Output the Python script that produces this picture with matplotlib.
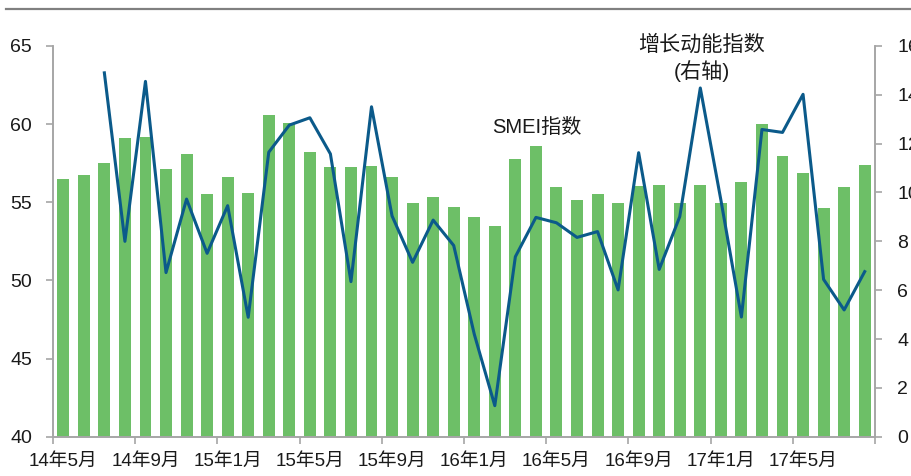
"""SMEI指数与增长动能指数 → out.png"""

import matplotlib
import matplotlib.pyplot as plt
from matplotlib.lines import Line2D

matplotlib.use("Agg")

plt.rcParams["font.family"] = ["Liberation Sans", "Noto Sans CJK SC", "DejaVu Sans"]
plt.rcParams["axes.unicode_minus"] = False

# ── 数据 ──────────────────────────────────────────
MONTHS = [f"{y}年{m}月" for y, m in
          [(14, m) for m in range(5, 13)] + [(15, m) for m in range(1, 13)]
          + [(16, m) for m in range(1, 13)] + [(17, m) for m in range(1, 9)]]

SMEI = [56.5, 56.75, 57.5, 59.1, 59.2, 57.1, 58.1, 55.5, 56.6, 55.6,
        60.6, 60.05, 58.2, 57.25, 57.25, 57.35, 56.6, 54.98, 55.35, 54.7,
        54.05, 53.5, 57.8, 58.6, 56.0, 55.15, 55.5, 54.95, 56.05, 56.1,
        54.98, 56.1, 54.98, 56.3, 59.98, 57.98, 56.9, 54.65, 56.0, 57.38]

GROWTH = [None, None, 14.9, 8.0, 14.55, 6.72, 9.73, 7.51, 9.46, 4.89,
          11.65, 12.76, 13.06, 11.58, 6.35, 13.51, 9.04, 7.14, 8.87, 7.83,
          4.2, 1.27, 7.37, 8.98, 8.76, 8.16, 8.4, 6.01, 11.63, 6.85,
          9.01, 14.28, 9.7, 4.9, 12.58, 12.46, 14.02, 6.44, 5.19, 6.76]

BAR_COLOR = "#6dbf67"
LINE_COLOR = "#0b5a8a"
AXIS_COLOR = "#a6a6a6"
TEXT_COLOR = "#1a1a1a"


def main() -> None:
    fig = plt.figure(figsize=(9.12, 4.76), dpi=100)
    ax = fig.add_axes([0.0581, 0.0826, 0.9013, 0.8208])
    ax2 = ax.twinx()

    x = list(range(len(MONTHS)))
    ax.bar(x, SMEI, width=0.58, color=BAR_COLOR, zorder=2)
    gx = [i for i, v in zip(x, GROWTH) if v is not None]
    gy = [v for v in GROWTH if v is not None]
    ax2.plot(gx, gy, color=LINE_COLOR, linewidth=2.2, zorder=3)

    ax.set_xlim(-0.5, len(MONTHS) - 0.5)
    ax.set_ylim(40, 65)
    ax.set_yticks(range(40, 66, 5))
    ax2.set_ylim(0, 16)
    ax2.set_yticks(range(0, 17, 2))

    ax.set_xticks(x[::4])
    ax.set_xticklabels(MONTHS[::4], fontsize=13.5)
    ax.set_xticks([i - 0.5 for i in range(0, len(MONTHS) + 1, 4)], minor=True)
    ax.tick_params(axis="x", which="major", length=0, pad=12, labelcolor=TEXT_COLOR)
    ax.tick_params(axis="x", which="minor", length=5, color=AXIS_COLOR, width=1.2)
    ax.tick_params(axis="y", length=5, color=AXIS_COLOR, width=1.2, pad=10,
                   labelsize=14, labelcolor=TEXT_COLOR)
    ax2.tick_params(axis="y", length=5, color=AXIS_COLOR, width=1.2, pad=11,
                    labelsize=14, labelcolor=TEXT_COLOR)

    for a in (ax, ax2):
        a.spines["top"].set_visible(False)
        for s in ("left", "right", "bottom"):
            a.spines[s].set_color(AXIS_COLOR)
            a.spines[s].set_linewidth(1.2)
    ax.set_zorder(1)
    ax2.set_zorder(2)
    ax.patch.set_visible(False)

    fig.text(537 / 912, 1 - 127 / 476, "SMEI指数", fontsize=14.5,
             ha="center", va="center", color=TEXT_COLOR)
    fig.text(702 / 912, 1 - 45 / 476, "增长动能指数", fontsize=15.2,
             ha="center", va="center", color=TEXT_COLOR)
    fig.text(702 / 912, 1 - 71 / 476, "(右轴)", fontsize=15.2,
             ha="center", va="center", color=TEXT_COLOR)

    fig.add_artist(Line2D([6 / 912, 1], [1 - 9 / 476, 1 - 9 / 476],
                          transform=fig.transFigure, color="#808080", linewidth=1.6))

    fig.savefig("out.png", dpi=100)
    plt.close(fig)


if __name__ == "__main__":
    main()
